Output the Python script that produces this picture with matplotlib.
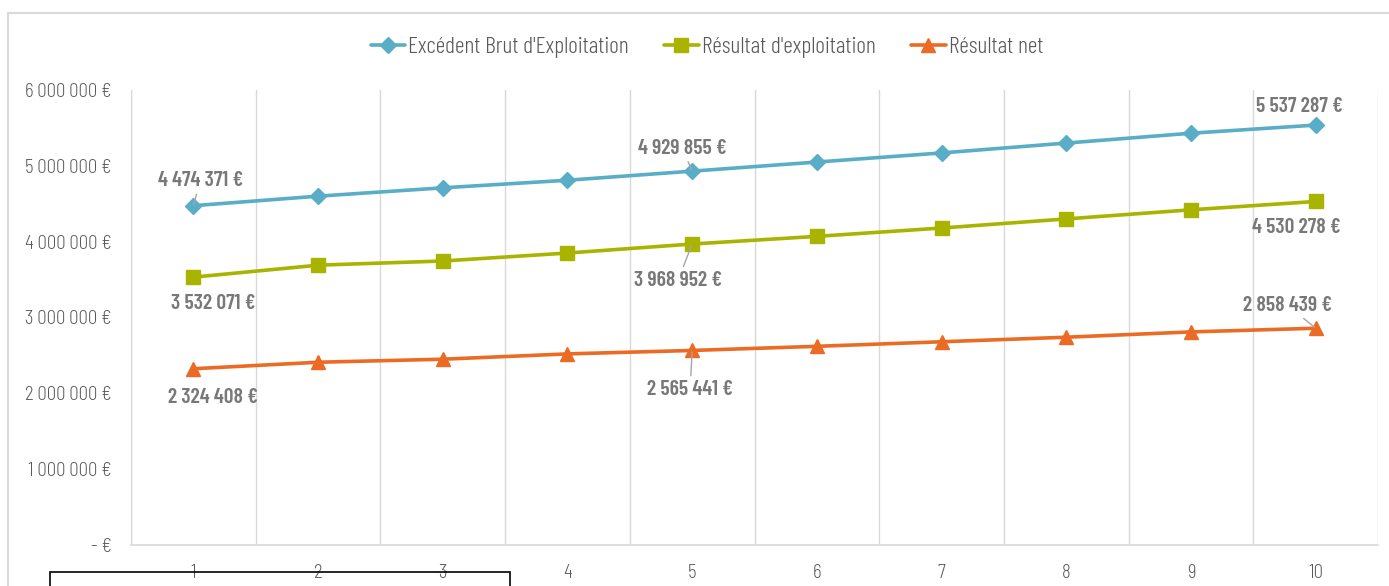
import matplotlib
matplotlib.use("Agg")
import matplotlib.pyplot as plt
from matplotlib.patches import Rectangle
from matplotlib.ticker import FuncFormatter, MultipleLocator

plt.rcParams['font.family'] = ['Barlow Semi Condensed', 'DejaVu Sans']

# Data
annees = [1, 2, 3, 4, 5, 6, 7, 8, 9, 10]
ebe = [4474371, 4600000, 4710000, 4810000, 4929855, 5050000, 5170000, 5300000, 5430000, 5537287]
resultat_exploitation = [3532071, 3690000, 3745000, 3850000, 3968952, 4070000, 4180000, 4300000, 4420000, 4530278]
resultat_net = [2324408, 2410000, 2450000, 2520000, 2565441, 2620000, 2680000, 2740000, 2810000, 2858439]

noms = ["Excédent Brut d'Exploitation", "Résultat d'exploitation", "Résultat net"]
couleurs = ["#5aadc6", "#a9b400", "#ec6b24"]
marqueurs = ["D", "s", "^"]
tailles = [8, 10, 10]

# Labelled points: (index, dx, dy in pixels, leader line)
etiquettes = [
    [(0, 7, 25, True), (4, -10, 23, True), (9, -16, 19, False)],
    [(0, 20, -26, False), (4, -14, -36, True), (9, -19, -26, False)],
    [(0, 20, -29, False), (4, -2, -39, True), (9, -28, 23, True)],
]

gris = "#595959"

def euros(v):
    return f"{v:,.0f}".replace(",", " ") + " €"

fig = plt.figure(figsize=(13.89, 5.86), dpi=100)
ax = fig.add_axes([131 / 1389, 1 - 545 / 586, (1378 - 131) / 1389, (545 - 90) / 586])

series = [ebe, resultat_exploitation, resultat_net]
for vals, nom, c, m, ms in zip(series, noms, couleurs, marqueurs, tailles):
    ax.plot(annees, vals, color=c, lw=2.6, marker=m, ms=ms, mec=c, mfc=c, label=nom,
            zorder=3, solid_capstyle='round')

for vals, lab in zip(series, etiquettes):
    for i, dx, dy, trait in lab:
        ax.annotate(euros(vals[i]), xy=(annees[i], vals[i]), xytext=(dx, dy),
                    textcoords='offset pixels', ha='center', va='center',
                    fontsize=15.5, color="#787878", fontweight=600,
                    family=['Barlow Condensed', 'DejaVu Sans'],
                    arrowprops=dict(arrowstyle='-', color='#a6a6a6', lw=1.0,
                                    shrinkA=1, shrinkB=1) if trait else None,
                    zorder=4)

ax.set_xlim(0.5, 10.5)
ax.set_ylim(0, 6000000)
ax.set_xticks(annees)
ax.xaxis.set_minor_locator(MultipleLocator(1, offset=0.5))
ax.grid(axis='x', which='minor', color='#d9d9d9', lw=1.0)
ax.yaxis.set_major_locator(MultipleLocator(1000000))
ax.yaxis.set_major_formatter(FuncFormatter(lambda v, p: "- €" if v == 0 else euros(v)))
ax.tick_params(axis='both', which='both', length=0, colors=gris, labelsize=13.5)
for t in ax.get_xticklabels() + ax.get_yticklabels():
    t.set_fontweight(300)
ax.tick_params(axis='x', pad=14)
ax.tick_params(axis='y', pad=14)
for s in ['top', 'right', 'left']:
    ax.spines[s].set_visible(False)
ax.spines['bottom'].set_color('#d9d9d9')
ax.spines['bottom'].set_linewidth(1.2)
ax.axvline(0.5, color='#d9d9d9', lw=1.0, zorder=1)

leg = fig.legend(loc='center', bbox_to_anchor=(707 / 1389, 1 - 47 / 586), ncol=3,
                 frameon=False, handlelength=1.45, columnspacing=1.5,
                 handletextpad=0.15, labelcolor=gris,
                 prop=dict(family=['Barlow Condensed', 'DejaVu Sans'], size=17, weight=300))

# Outer chart frame
fig.patches.append(Rectangle((8 / 1389, -0.1), 1.5, 1 - 13 / 586 + 0.1, transform=fig.transFigure,
                             fill=False, ec='#d9d9d9', lw=1.5, zorder=0))
# Box below the axis
fig.patches.append(Rectangle((50 / 1389, -0.1), 460 / 1389, 0.1 + (586 - 572) / 586,
                             transform=fig.transFigure, fill=False, ec='black', lw=1.2, zorder=5))

fig.savefig("out.png", dpi=100, facecolor='white')
